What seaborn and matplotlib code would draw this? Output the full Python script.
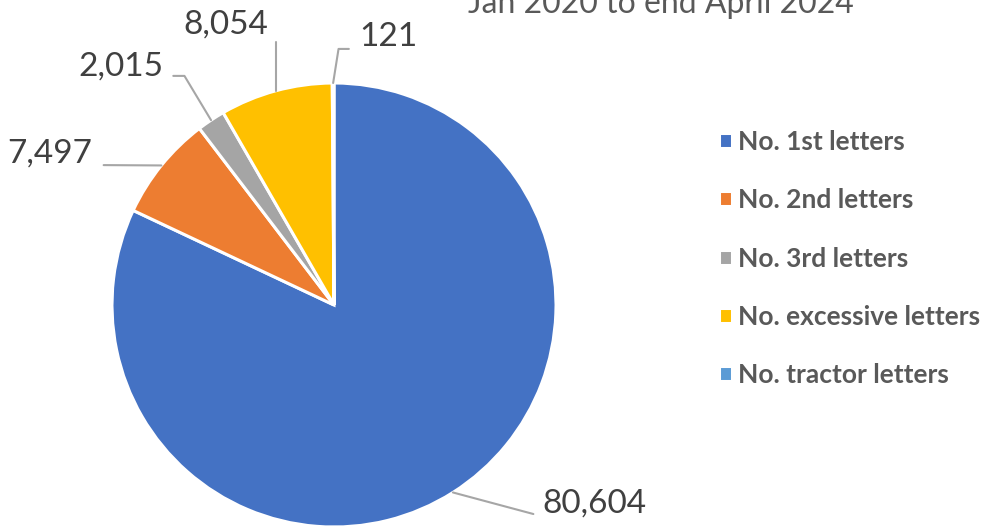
import matplotlib
matplotlib.use("Agg")
import matplotlib.pyplot as plt
import numpy as np
import seaborn as sns

# letter counts, Jan 2020 to end April 2024
categories = ["No. 1st letters", "No. 2nd letters", "No. 3rd letters",
              "No. excessive letters", "No. tractor letters"]
counts = [80604, 7497, 2015, 8054, 121]
colours = ["#4472C4", "#ED7D31", "#A5A5A5", "#FFC000", "#5B9BD5"]

sns.set_theme(style="white")
plt.rcParams["font.family"] = ["Lato", "DejaVu Sans"]

fig = plt.figure(figsize=(9.92, 5.26), dpi=100)
ax = fig.add_axes([0, 0, 1, 1])

wedges, _ = ax.pie(counts, colors=colours, startangle=90, counterclock=False,
                   wedgeprops=dict(edgecolor="white", linewidth=2.2))

# pie radius = 222 px, centre at (334, 305) px
ax.set_aspect("auto")
ax.set_xlim(-334 / 222, (992 - 334) / 222)
ax.set_ylim(-(526 - 305) / 222, 305 / 222)
ax.axis("off")

# label placement: text position, alignment, where the leader leaves the text, connection
label_style = [
    dict(xytext=(0.937, -0.937), ha="left", relpos=(0, 0.1), shrinkA=4,
         conn="angle,angleA=180,angleB=-15"),
    dict(xytext=(-1.09, 0.644), ha="right", relpos=(1, 0.1), shrinkA=6,
         conn="arc3,rad=0"),
    dict(xytext=(-0.770, 1.032), ha="right", relpos=(1, 0.2), shrinkA=5,
         conn="angle,angleA=0,angleB=121"),
    dict(xytext=(-0.296, 1.225), ha="right", relpos=(1, 0.1), shrinkA=5,
         conn="angle,angleA=0,angleB=90"),
    dict(xytext=(0.113, 1.167), ha="left", relpos=(0, 0.1), shrinkA=5,
         conn="angle,angleA=180,angleB=81"),
]

for w, n, st in zip(wedges, counts, label_style):
    mid = np.deg2rad((w.theta1 + w.theta2) / 2)
    edge = (np.cos(mid), np.sin(mid))
    ax.annotate(f"{n:,}", xy=edge, xytext=st["xytext"], ha=st["ha"], va="baseline",
                fontsize=24, color="#404040",
                arrowprops=dict(arrowstyle="-", color="#A6A6A6", lw=1.5,
                                relpos=st["relpos"], shrinkA=st["shrinkA"], shrinkB=0,
                                connectionstyle=st["conn"]))

leg = ax.legend(wedges, categories, loc="upper left", bbox_to_anchor=(719 / 992, 1 - 130 / 526),
                bbox_transform=fig.transFigure, frameon=False, borderaxespad=0,
                handlelength=0.5, handleheight=0.5, handletextpad=0.22,
                labelspacing=1.3, borderpad=0,
                prop=dict(size=19, weight="bold"))
for t in leg.get_texts():
    t.set_color("#595959")

fig.text(0.666, 1 - 13 / 526, "Jan 2020 to end April 2024", ha="center", va="baseline",
         fontsize=23, color="#595959")

fig.savefig("out.png", dpi=100)
